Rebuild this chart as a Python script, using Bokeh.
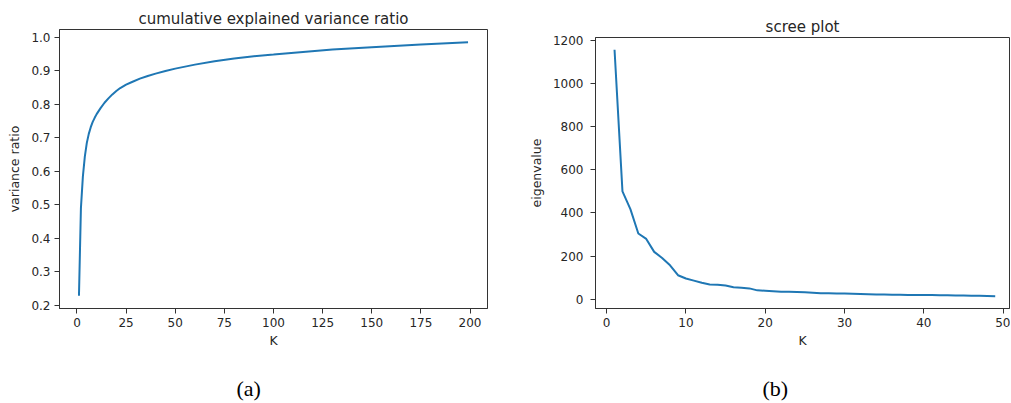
from bokeh.plotting import figure
from bokeh.layouts import row, column
from bokeh.models import PrintfTickFormatter, Range1d, Title, Spacer, LinearAxis
from bokeh.embed import file_html
from bokeh.resources import INLINE

# ---- data ----
cum_k = [1, 2, 3, 4, 5, 6, 7, 8, 9, 10, 12, 14, 16, 18, 20, 22, 25, 28, 32, 36,
         40, 45, 50, 60, 70, 80, 90, 100, 115, 130, 150, 175, 199]
cum_ratio = [0.228, 0.49, 0.585, 0.645, 0.685, 0.712, 0.732, 0.748, 0.760, 0.771,
             0.789, 0.805, 0.818, 0.830, 0.840, 0.849, 0.859, 0.867, 0.877, 0.885,
             0.892, 0.900, 0.907, 0.919, 0.929, 0.937, 0.944, 0.949, 0.957, 0.964,
             0.971, 0.979, 0.986]

scree_k = list(range(1, 50))
eigenvalues = [1155, 500, 418, 305, 280, 220, 192, 158, 112, 97, 87, 77, 69, 68, 64,
               56, 54, 51, 42, 40, 38, 36, 35, 34, 33, 31, 29, 28, 27, 27, 26, 25,
               24, 23, 23, 22, 22, 21, 21, 20, 20, 19, 19, 18, 18, 17, 17, 16, 15]

left_xticks = [0, 25, 50, 75, 100, 125, 150, 175, 200]
left_yticks = [0.2, 0.3, 0.4, 0.5, 0.6, 0.7, 0.8, 0.9, 1.0]
right_xticks = [0, 10, 20, 30, 40, 50]
right_yticks = [0, 200, 400, 600, 800, 1000, 1200]

LINE = "#1f77b4"
TXT = "#262626"
FONT = "DejaVu Sans"


def style(p, xlabel, ylabel, xticks, yticks, ystandoff):
    p.grid.visible = False
    p.outline_line_color = "#333333"
    p.outline_line_width = 1
    p.background_fill_color = "white"
    p.border_fill_color = "white"
    for ax in (p.xaxis[0], p.yaxis[0]):
        ax.axis_line_color = "#333333"
        ax.major_tick_line_color = "#333333"
        ax.major_tick_in = 0
        ax.major_tick_out = 5
        ax.minor_tick_line_color = None
        ax.major_label_text_font = FONT
        ax.major_label_text_font_size = "12px"
        ax.major_label_text_color = TXT
        ax.axis_label_text_font = FONT
        ax.axis_label_text_font_size = "12.5px"
        ax.axis_label_text_font_style = "normal"
        ax.axis_label_text_color = TXT
    p.xaxis.axis_label = xlabel
    p.yaxis.axis_label = ylabel
    p.xaxis.ticker = xticks
    p.yaxis.ticker = yticks
    p.xaxis.major_label_standoff = 4
    p.yaxis.major_label_standoff = ystandoff
    p.xaxis.axis_label_standoff = 3
    p.yaxis.axis_label_standoff = 6


def titles(p, top_text, caption, caption_offset):
    p.title.text = top_text
    p.title.align = "center"
    p.title.text_font = FONT
    p.title.text_font_size = "15px"
    p.title.text_font_style = "normal"
    p.title.text_color = TXT
    p.title.standoff = 4
    # invisible axis used only as vertical room between "K" and the caption
    gap = LinearAxis(ticker=[0], axis_line_color=None, major_tick_line_color="white",
                     minor_tick_line_color=None, major_tick_out=22, major_tick_in=0,
                     major_label_text_color=None, major_label_standoff=0)
    p.add_layout(gap, "below")
    cap = Title(text=caption, align="left", offset=caption_offset,
                text_font="Liberation Serif", text_font_size="22px",
                text_font_style="normal", text_color="black", standoff=2)
    p.add_layout(cap, "below")


# ---- left panel ----
p1 = figure(width=520, height=403, output_backend="svg", toolbar_location=None,
            x_range=Range1d(-8.9, 208.9), y_range=Range1d(0.19, 1.024),
            min_border_left=59, min_border_right=33, min_border_top=29,
            min_border_bottom=95)
p1.line(cum_k, cum_ratio, line_color=LINE, line_width=2)
style(p1, "K", "variance ratio", left_xticks, left_yticks, 4)
p1.yaxis.formatter = PrintfTickFormatter(format="%.1f")
titles(p1, "cumulative explained variance ratio", "(a)", 177)

# ---- right panel ----
p2 = figure(width=490, height=395, output_backend="svg", toolbar_location=None,
            x_range=Range1d(-1.4, 50.8), y_range=Range1d(-42, 1212),
            min_border_left=75, min_border_right=1, min_border_top=29,
            min_border_bottom=95)
p2.line(scree_k, eigenvalues, line_color=LINE, line_width=2)
style(p2, "K", "eigenvalue", right_xticks, right_yticks, 7)
titles(p2, "scree plot", "(b)", 167)

layout = row(p1, column(Spacer(width=490, height=8), p2, spacing=0), spacing=0)
open("out.html", "w").write(file_html(layout, INLINE))
